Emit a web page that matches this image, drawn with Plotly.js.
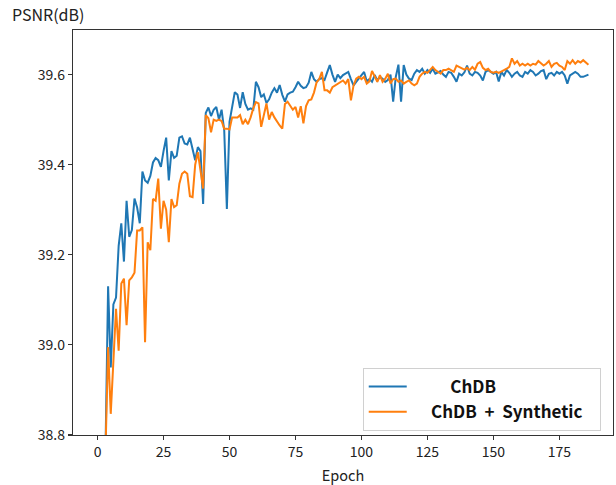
<!DOCTYPE html>
<html>
<head>
<meta charset="utf-8">
<script src="https://cdn.plot.ly/plotly-3.0.1.min.js"></script>
<style>html,body{margin:0;padding:0;background:#fff;}#chart{width:616px;height:485px;}</style>
</head>
<body>
<div id="chart"></div>
<script>
// Epoch index 0..186
const epochs = Array.from({length: 187}, (_, i) => i);

const chdb = [
38.30,38.42,38.55,38.76,39.13,38.95,39.09,39.105,39.22,39.27,
39.185,39.32,39.24,39.255,39.325,39.305,39.27,39.385,39.365,39.36,
39.375,39.405,39.415,39.41,39.395,39.43,39.46,39.365,39.43,39.415,
39.42,39.46,39.463,39.447,39.445,39.46,39.432,39.41,39.439,39.43,
39.313,39.515,39.527,39.508,39.522,39.528,39.50,39.522,39.476,39.302,
39.495,39.528,39.561,39.556,39.526,39.561,39.535,39.522,39.525,39.522,
39.584,39.572,39.55,39.556,39.537,39.545,39.56,39.57,39.56,39.577,
39.555,39.54,39.556,39.56,39.562,39.572,39.584,39.575,39.57,39.572,
39.582,39.606,39.59,39.584,39.59,39.592,39.588,39.605,39.621,39.60,
39.584,39.60,39.592,39.599,39.602,39.606,39.59,39.576,39.584,39.591,
39.60,39.606,39.585,39.59,39.584,39.599,39.587,39.595,39.591,39.584,
39.588,39.60,39.54,39.595,39.622,39.54,39.621,39.60,39.591,39.588,
39.602,39.61,39.606,39.613,39.602,39.61,39.604,39.613,39.602,39.606,
39.608,39.60,39.595,39.606,39.604,39.595,39.584,39.602,39.598,39.605,
39.62,39.602,39.598,39.606,39.604,39.598,39.587,39.606,39.61,39.606,
39.602,39.606,39.585,39.606,39.598,39.61,39.604,39.595,39.602,39.606,
39.598,39.595,39.606,39.602,39.61,39.606,39.598,39.602,39.608,39.61,
39.59,39.602,39.604,39.598,39.606,39.602,39.606,39.598,39.58,39.598,
39.602,39.606,39.602,39.595,39.595,39.597,39.60
];

const chdbSynthetic = [
38.20,38.33,38.48,38.76,38.995,38.847,38.98,39.08,38.987,39.136,
39.147,39.044,39.143,39.15,39.16,39.254,39.254,39.261,39.006,39.228,
39.21,39.324,39.32,39.369,39.258,39.32,39.30,39.228,39.324,39.306,
39.31,39.358,39.38,39.385,39.38,39.33,39.328,39.40,39.428,39.387,
39.347,39.51,39.503,39.472,39.50,39.497,39.50,39.497,39.48,39.48,
39.478,39.505,39.505,39.505,39.51,39.49,39.50,39.49,39.505,39.525,
39.539,39.536,39.484,39.51,39.536,39.50,39.517,39.505,39.495,39.487,
39.48,39.535,39.54,39.53,39.522,39.528,39.505,39.53,39.492,39.53,
39.543,39.545,39.56,39.583,39.59,39.606,39.565,39.565,39.56,39.572,
39.576,39.58,39.584,39.587,39.58,39.59,39.543,39.576,39.591,39.595,
39.59,39.595,39.58,39.585,39.608,39.595,39.584,39.599,39.584,39.591,
39.602,39.58,39.59,39.591,39.584,39.587,39.58,39.584,39.587,39.58,
39.576,39.58,39.595,39.602,39.606,39.604,39.61,39.617,39.61,39.606,
39.602,39.61,39.61,39.613,39.61,39.606,39.62,39.617,39.613,39.611,
39.615,39.61,39.617,39.611,39.624,39.628,39.615,39.61,39.613,39.606,
39.604,39.606,39.604,39.608,39.61,39.613,39.617,39.636,39.624,39.63,
39.62,39.624,39.62,39.624,39.62,39.624,39.622,39.63,39.624,39.62,
39.624,39.63,39.617,39.624,39.626,39.62,39.617,39.61,39.63,39.624,
39.632,39.624,39.63,39.627,39.632,39.628,39.622
];

const seriesNames = ['\u00A0\u00A0\u00A0\u00A0\u00A0\u00A0\u00A0\u00A0\u00A0\u00A0ChDB', '\u00A0\u00A0\u00A0\u00A0\u00A0ChDB\u00A0\u00A0+\u00A0\u00A0Synthetic\u00A0\u00A0\u00A0'];
const xTicks = [0, 25, 50, 75, 100, 125, 150, 175];
const yTicks = [38.8, 39.0, 39.2, 39.4, 39.6];

const baseFont = '"Noto Sans CJK KR", "Noto Sans", sans-serif';

const traces = [
  {x: epochs, y: chdb, type: 'scatter', mode: 'lines', name: seriesNames[0],
   line: {color: '#1f77b4', width: 2}},
  {x: epochs, y: chdbSynthetic, type: 'scatter', mode: 'lines', name: seriesNames[1],
   line: {color: '#ff7f0e', width: 2}}
];

const layout = {
  width: 616, height: 485,
  margin: {l: 73, r: 2.5, t: 30, b: 50, pad: 0},
  paper_bgcolor: '#fff', plot_bgcolor: '#fff',
  font: {family: baseFont, size: 14, color: '#222'},
  title: {text: 'PSNR(dB)', x: 12/616, xanchor: 'left', xref: 'container',
          y: 1 - 15/485, yanchor: 'middle', yref: 'container',
          font: {family: baseFont, size: 16, color: '#222'}},
  xaxis: {
    range: [-9.3, 195.3], tickvals: xTicks, ticktext: xTicks.map(String),
    showgrid: false, zeroline: false, showline: true, mirror: true,
    linecolor: '#333', linewidth: 1.2, ticks: 'outside', ticklen: 4, tickwidth: 1.1, tickcolor: '#333',
    tickfont: {family: baseFont, size: 14, color: '#222'},
    title: {text: 'Epoch', standoff: 12, font: {family: baseFont, size: 14.5, color: '#222'}}
  },
  yaxis: {
    range: [38.8, 39.699], tickvals: yTicks, ticktext: yTicks.map(v => v.toFixed(1)),
    showgrid: false, zeroline: false, showline: true, mirror: true,
    linecolor: '#333', linewidth: 1.2, ticks: 'outside', ticklen: 4, tickwidth: 1.1, tickcolor: '#333',
    tickfont: {family: baseFont, size: 14, color: '#222'}
  },
  showlegend: true,
  legend: {
    x: (363 - 73) / 540.5, y: (435 - 368) / 405, xanchor: 'left', yanchor: 'top',
    bgcolor: 'rgba(255,255,255,0.85)', bordercolor: '#d0d0d0', borderwidth: 1,
    font: {family: baseFont, size: 17, color: '#111', weight: 'bold'},
    itemwidth: 38, tracegroupgap: 0
  }
};

Plotly.newPlot('chart', traces, layout, {displayModeBar: false, staticPlot: true});
</script>
</body>
</html>
